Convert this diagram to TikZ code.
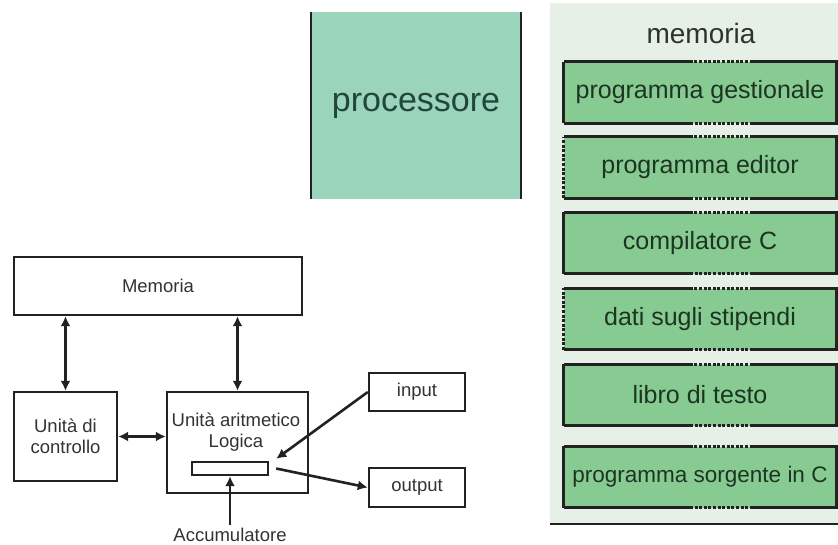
\documentclass[tikz,border=0pt]{standalone}
\usepackage{fontspec}
\setmainfont{Liberation Sans}
\usetikzlibrary{arrows.meta,calc}
\definecolor{procfill}{HTML}{9AD4BA}
\definecolor{proctext}{HTML}{21473A}
\definecolor{panelbg}{HTML}{E6F0E6}
\definecolor{memfill}{HTML}{88CB92}
\definecolor{memtext}{HTML}{1C3522}
\definecolor{titletext}{HTML}{2E332E}
\definecolor{ink}{HTML}{222222}
\definecolor{txtgray}{HTML}{333333}
\begin{document}
\begin{tikzpicture}[x=1pt,y=-1pt,
  blk/.style={draw=ink, line width=2.4pt, fill=white, inner sep=0pt,
    font=\fontsize{18.5}{21}\selectfont, text=txtgray, align=center},
  lbl/.style={inner sep=0pt, font=\fontsize{18.5}{21}\selectfont,
    text=txtgray, align=center},
  arr1/.style={draw=ink, line width=2.6pt, -{Latex[length=10pt,width=10pt]}},
  arr2/.style={draw=ink, line width=2.6pt,
    {Latex[length=10pt,width=10pt]}-{Latex[length=10pt,width=10pt]}},
  procbox/.style={fill=procfill, inner sep=0pt, minimum width=210pt,
    minimum height=187pt, text=proctext, font=\fontsize{34}{40}\selectfont},
  membox/.style={fill=memfill, inner sep=0pt, minimum width=272pt,
    minimum height=61pt, text=memtext, font=\fontsize{25}{30}\selectfont},
  edgesolid/.style={draw=ink, line width=2.8pt},
  edgedot/.style={draw=ink, line width=2.8pt, dash pattern=on 3pt off 1.6pt},
]
\useasboundingbox (0,0) rectangle (838,544);

% processor block
\node[procbox] (proc) at (416,105.5) {processore};
\draw[draw=ink, line width=2.4pt] (proc.north west) -- (proc.south west);
\draw[draw=ink, line width=2.4pt] (proc.north east) -- (proc.south east);

% memory panel
\fill[panelbg] (550,3) rectangle (838,524);
\draw[draw=ink, line width=2.4pt] (550,524) -- (838,524);
\node[inner sep=0pt, text=titletext, font=\fontsize{28}{34}\selectfont]
  (memtitle) at (701,33) {memoria};

\node[membox] (m1) at (700,92.5) {programma gestionale};
\node[membox] (m2) at (700,167.5) {programma editor};
\node[membox] (m3) at (700,243) {compilatore C};
\node[membox] (m4) at (700,319) {dati sugli stipendi};
\node[membox] (m5) at (700,395) {libro di testo};
\node[membox, font=\fontsize{22.5}{27}\selectfont] (m6) at (700,477)
  {programma sorgente in C};

% memory block outlines with dotted joins
\foreach \b/\ls in {m1/edgesolid,m2/edgedot,m3/edgesolid,m4/edgedot,m5/edgesolid,m6/edgesolid}{
  \draw[edgesolid] (\b.north west) -- ([xshift=126pt]\b.north west);
  \draw[edgedot] ([xshift=126pt]\b.north west) -- ([xshift=189pt]\b.north west);
  \draw[edgesolid] ([xshift=189pt]\b.north west) -- (\b.north east)
    -- (\b.south east) -- ([xshift=189pt]\b.south west);
  \draw[edgedot] ([xshift=189pt]\b.south west) -- ([xshift=126pt]\b.south west);
  \draw[edgesolid] ([xshift=126pt]\b.south west) -- (\b.south west);
  \draw[\ls] (\b.south west) -- (\b.north west);
}

% von Neumann block scheme
\node[blk, minimum width=288pt, minimum height=58pt] (mem) at (158,286) {Memoria};
\node[blk, minimum width=103pt, minimum height=89pt] (cu) at (65.5,436.5)
  {Unità di\\controllo};
\node[blk, minimum width=141pt, minimum height=101pt] (alu) at (237.5,442.5) {};
\node[lbl] (alutxt) at (236,432.5) {Unità aritmetico\\Logica};
\node[blk, minimum width=76pt, minimum height=13pt] (acc) at (230,468.5) {};
\node[blk, minimum width=96pt, minimum height=38pt] (in) at (417,392) {input};
\node[blk, minimum width=96pt, minimum height=39pt] (out) at (417,487.5) {output};
\node[lbl] (acclbl) at (230,535) {Accumulatore};

\coordinate (accin) at ([xshift=7pt,yshift=2pt]acc.north east);
\coordinate (accout) at ([xshift=7pt]acc.east);

\draw[arr2] (mem.south -| cu.north) -- (cu.north);
\draw[arr2] (mem.south -| alu.north) -- (alu.north);
\draw[arr2] (cu.east) -- (cu.east -| alu.west);
\draw[arr1] (in.west) -- (accin);
\draw[arr1] (accout) -- (out.west);
\draw[arr1] ([yshift=3pt]acclbl.north) -- (acc.south);
\end{tikzpicture}
\end{document}
